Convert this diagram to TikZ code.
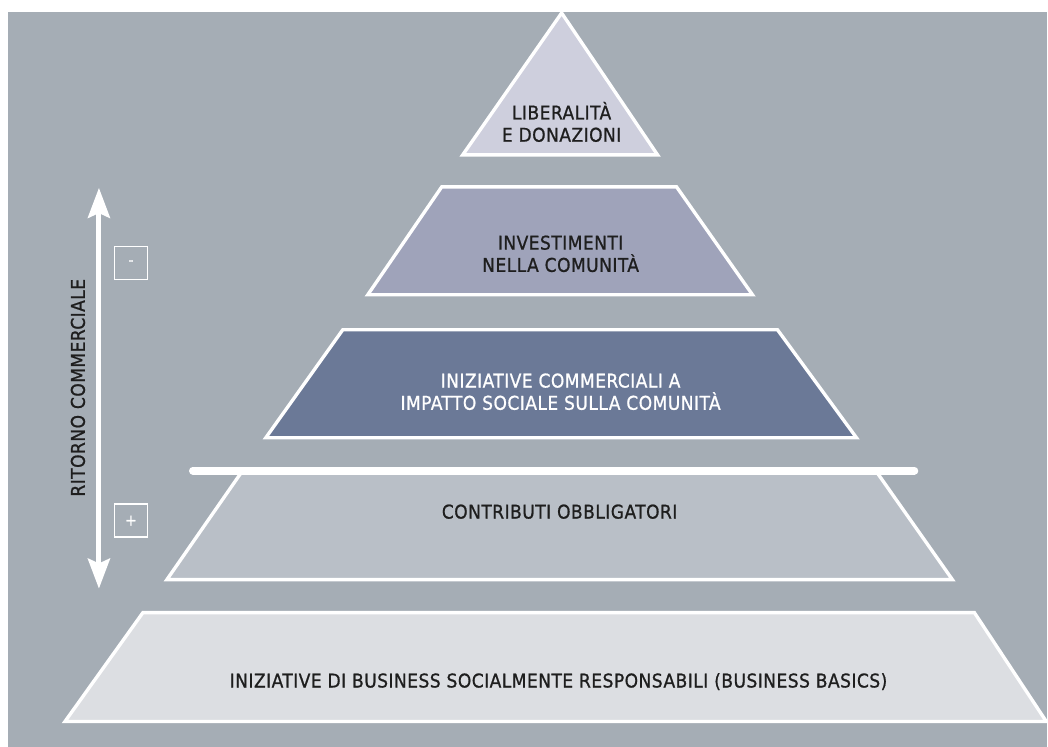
\documentclass[tikz,border=0pt]{standalone}
\usepackage{fontspec}
\setmainfont{DejaVu Sans Condensed}[LetterSpace=2.5, FakeBold=0.9]
\usetikzlibrary{arrows.meta}

\definecolor{bggray}{RGB}{165,173,181}
\definecolor{tipfill}{RGB}{206,207,221}
\definecolor{investfill}{RGB}{159,163,186}
\definecolor{commfill}{RGB}{107,121,151}
\definecolor{contribfill}{RGB}{185,191,199}
\definecolor{basicsfill}{RGB}{220,222,226}
\definecolor{txtdark}{RGB}{30,30,30}

\tikzset{
  tier/.style={draw=white, line width=2.4pt, line join=miter},
  tiertext/.style={align=center, text=txtdark, inner sep=0pt,
    font=\fontsize{13.5}{15.8}\selectfont},
  signbox/.style={draw=white, line width=1pt, minimum size=0.825cm,
    inner sep=0pt, text=white, font=\fontsize{11}{11}\selectfont},
  retarrow/.style={draw=white, line width=3.6pt,
    {Stealth[length=0.75cm, width=0.55cm, inset=0.12cm]}-{Stealth[length=0.75cm, width=0.55cm, inset=0.12cm]}}
}

\begin{document}
\begin{tikzpicture}[x=0.025cm, y=-0.025cm]
  % page and grey backdrop
  \fill[white] (0,0) rectangle (1048,747);
  \fill[bggray] (8,12) rectangle (1048,747);

  % pyramid tiers, top to bottom
  \draw[tier, fill=tipfill] (562,13) -- (658,155) -- (463,155) -- cycle;
  \draw[tier, fill=investfill] (442,187) -- (677,187) -- (753,295) -- (368,295) -- cycle;
  \draw[tier, fill=commfill] (343,330) -- (778,330) -- (857,438) -- (266,438) -- cycle;
  \draw[tier, fill=contribfill] (242,472) -- (877,472) -- (953,580) -- (167,580) -- cycle;
  \draw[white, line width=5.5pt, line cap=round] (193,471) -- (915,471);
  \draw[tier, fill=basicsfill] (143,613) -- (975,613) -- (1047,722) -- (65,722) -- cycle;

  % tier labels
  \node[tiertext] (liberalita) at (562,122) {LIBERALITÀ\\E DONAZIONI};
  \node[tiertext] (investimenti) at (561,254) {INVESTIMENTI\\NELLA COMUNITÀ};
  \node[tiertext, text=white] (commerciali) at (561,392) {INIZIATIVE COMMERCIALI A\\IMPATTO SOCIALE SULLA COMUNITÀ};
  \node[tiertext] (contributi) at (560,512) {CONTRIBUTI OBBLIGATORI};
  \node[tiertext] (basics) at (559,682) {INIZIATIVE DI BUSINESS SOCIALMENTE RESPONSABILI (BUSINESS BASICS)};

  % commercial return scale
  \coordinate (rettop) at (99,188);
  \coordinate (retbot) at (99,589);
  \draw[retarrow] (rettop) -- (retbot);
  \node[tiertext, rotate=90] (ritorno) at (78,388) {RITORNO COMMERCIALE};
  \node[signbox] (meno) at (131,263) {-};
  \node[signbox] (piu) at (131,521) {+};
\end{tikzpicture}
\end{document}
